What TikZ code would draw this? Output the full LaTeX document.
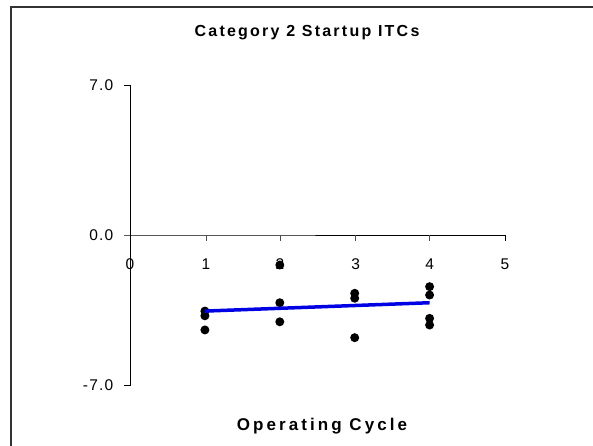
\documentclass[tikz,border=0pt]{standalone}
\usepackage{fontspec}
\setmainfont{Liberation Sans}
\newfontfamily\titlefont[LetterSpace=14]{Liberation Sans}
\newfontfamily\axtitlefont[LetterSpace=18]{Liberation Sans}
\newfontfamily\tickfont[LetterSpace=8]{Liberation Sans}
\begin{document}
\begin{tikzpicture}[x=1pt,y=-1pt,
  axis/.style={line width=1pt,black},
  tick/.style={line width=1pt,black!70},
  ticklab/.style={font=\fontsize{15.5}{15.5}\selectfont\tickfont,inner sep=0pt},
  ttl/.style={font=\fontsize{16}{16}\selectfont\bfseries\titlefont,inner sep=0pt},
  axttl/.style={font=\fontsize{17}{17}\selectfont\bfseries\axtitlefont,inner sep=0pt},
  dot/.style={circle,fill=black,inner sep=0pt,minimum size=9pt},
  fit/.style={line width=3.5pt,blue!90!black}]
\useasboundingbox (0,0) rectangle (593,445);
\fill[white] (0,0) rectangle (593,445);
% frame (right and bottom edges lie outside the picture)
\draw[line width=2pt,black!80] (10.5,450) -- (10.5,6.5) -- (600,6.5);
% titles
\node[ttl] (title) at (307,33) {Category 2 Startup ITCs};
\node[axttl] (xtitle) at (322,426) {Operating Cycle};
% axes
\coordinate (ytop) at (130,85);
\coordinate (ybot) at (130,385);
\coordinate (x0) at (130,235);
\coordinate (x5) at (505,235);
\draw[axis] (124,85) -- (ytop) -- (ybot) -- (124,385);
\draw[axis] (124,235) -- (x0) -- (x5);
\foreach \i/\px in {1/206,2/280,3/355.7,4/429.7}{
  \draw[tick] (\px,235) -- (\px,241);
}
\draw[axis] (505,235) -- (505,241);
% y labels
\node[ticklab,anchor=east] (y7) at (113.5,85) {7.0};
\node[ticklab,anchor=east] (y0) at (113.5,235) {0.0};
\node[ticklab,anchor=east] (ym7) at (113.5,385) {-7.0};
% x labels
\foreach \i/\px in {0/130,1/206,2/280,3/355.7,4/429.7,5/505}{
  \node[ticklab] (xl\i) at (\px,264) {\i};
}
% data
\begin{scope}[shift={(130,235)},x=74.9pt,y=21.43pt]
  \foreach \n/\a/\b in {a/1/-3.55,b/1/-3.77,c/1/-4.43,
                        d/2/-1.40,e/2/-3.16,f/2/-4.05,
                        g/3/-2.72,h/3/-2.95,i/3/-4.79,
                        j/4/-2.41,k/4/-2.80,l/4/-3.89,m/4/-4.20}{
    \node[dot] (p\n) at (\a,\b) {};
  }
  \coordinate (f1) at (1,-3.55);
  \coordinate (f4) at (4,-3.16);
  \draw[fit] (f1) -- (f4);
\end{scope}
\end{tikzpicture}
\end{document}
